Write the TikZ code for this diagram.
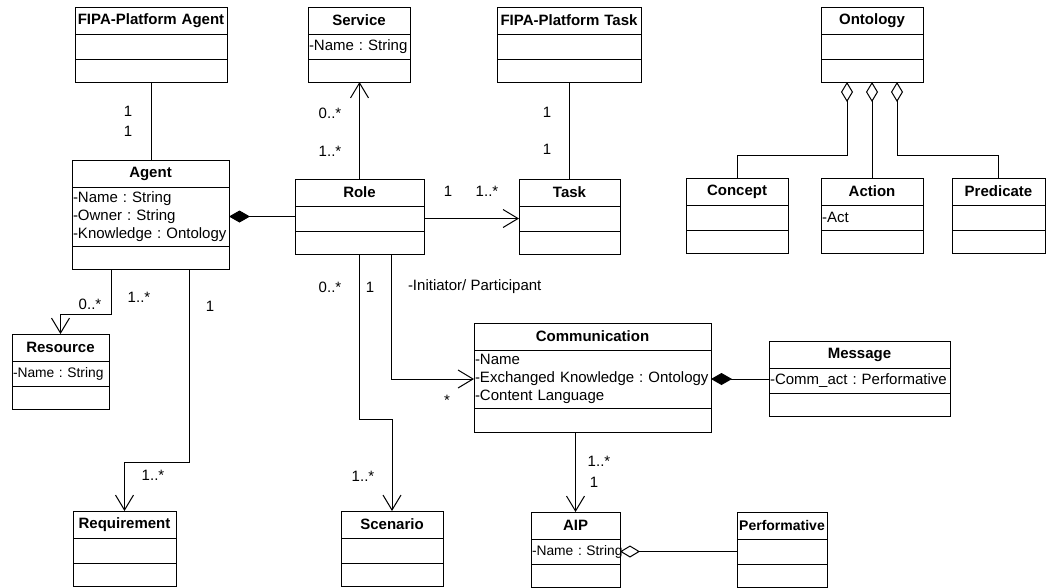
\documentclass[tikz,border=0pt]{standalone}
\usepackage{fontspec}
\setmainfont{Liberation Sans}
\usetikzlibrary{arrows.meta,positioning}
\frenchspacing

\begin{document}
\begin{tikzpicture}[x=1pt,y=-1pt,line width=1pt,
  every node/.style={font=\fontsize{15}{18}\selectfont,outer sep=0pt},
  title/.style={draw,text width=#1,align=center,inner xsep=1pt,inner ysep=0pt,
    minimum height=27pt,font=\fontsize{15}{18}\selectfont\bfseries,anchor=north west},
  slot/.style={draw,text width=#1,align=left,inner xsep=1pt,inner ysep=0pt,minimum height=25pt},
  ops/.style={slot=#1,minimum height=23pt},
  narrow/.style={font=\fontsize{13.8}{18}\selectfont},
  lbl/.style={inner sep=0pt},
  assoc/.style={-{Straight Barb[length=15pt,width=18pt]}},
  compo/.style={{Diamond[length=21pt,width=12pt]}-},
  aggr/.style={{Diamond[open,length=20pt,width=12pt]}-}]
  \useasboundingbox (0,0) rectangle (1047,587);

  % top row
  \node[title=150pt] (fpagent) at (75,7) {FIPA-Platform Agent};
  \node[slot=150pt,below=0pt of fpagent] (fpagentA) {};
  \node[ops=150pt,below=0pt of fpagentA] (fpagentO) {};

  \node[title=100pt] (service) at (308,7) {Service};
  \node[slot=100pt,below=0pt of service] (serviceA) {-Name : String};
  \node[ops=100pt,below=0pt of serviceA] (serviceO) {};

  \node[title=142pt] (fptask) at (497,7) {FIPA-Platform Task};
  \node[slot=142pt,below=0pt of fptask] (fptaskA) {};
  \node[ops=142pt,below=0pt of fptaskA] (fptaskO) {};

  \node[title=100pt] (ontology) at (821,7) {Ontology};
  \node[slot=100pt,below=0pt of ontology] (ontologyA) {};
  \node[ops=100pt,below=0pt of ontologyA] (ontologyO) {};

  % second row
  \node[title=155pt] (agent) at (72,160) {Agent};
  \node[slot=155pt,below=0pt of agent,minimum height=59pt] (agentA)
    {-Name : String\\-Owner : String\\-Knowledge : Ontology};
  \node[ops=155pt,below=0pt of agentA] (agentO) {};

  \node[title=127pt] (role) at (295,179) {Role};
  \node[slot=127pt,below=0pt of role] (roleA) {};
  \node[ops=127pt,below=0pt of roleA] (roleO) {};

  \node[title=99pt] (task) at (519,179) {Task};
  \node[slot=99pt,below=0pt of task] (taskA) {};
  \node[ops=99pt,below=0pt of taskA] (taskO) {};

  \node[title=100pt] (concept) at (686,178) {Concept};
  \node[slot=100pt,below=0pt of concept] (conceptA) {};
  \node[ops=100pt,below=0pt of conceptA] (conceptO) {};

  \node[title=100pt] (action) at (821,178) {Action};
  \node[slot=100pt,below=0pt of action] (actionA) {-Act};
  \node[ops=100pt,below=0pt of actionA] (actionO) {};

  \node[title=91pt] (predicate) at (952,178) {Predicate};
  \node[slot=91pt,below=0pt of predicate] (predicateA) {};
  \node[ops=91pt,below=0pt of predicateA] (predicateO) {};

  % third row
  \node[title=95pt] (resource) at (12,334) {Resource};
  \node[slot=95pt,narrow,below=0pt of resource] (resourceA) {\mbox{-Name : String}};
  \node[ops=95pt,below=0pt of resourceA] (resourceO) {};

  \node[title=235pt] (comm) at (474,323) {Communication};
  \node[slot=235pt,below=0pt of comm,minimum height=58pt] (commA)
    {-Name\\-Exchanged Knowledge : Ontology\\-Content Language};
  \node[ops=235pt,below=0pt of commA,minimum height=24pt] (commO) {};

  \node[title=179pt] (message) at (769,341) {Message};
  \node[slot=179pt,below=0pt of message] (messageA) {-Comm\_act : Performative};
  \node[ops=179pt,below=0pt of messageA] (messageO) {};

  % bottom row
  \node[title=101pt] (requirement) at (73,511) {Requirement};
  \node[slot=101pt,below=0pt of requirement] (requirementA) {};
  \node[ops=101pt,below=0pt of requirementA] (requirementO) {};

  \node[title=100pt] (scenario) at (341,511) {Scenario};
  \node[slot=100pt,below=0pt of scenario] (scenarioA) {};
  \node[ops=100pt,below=0pt of scenarioA] (scenarioO) {};

  \node[title=87pt] (aip) at (531,512) {AIP};
  \node[slot=87pt,narrow,below=0pt of aip] (aipA) {\mbox{-Name : String}};
  \node[ops=87pt,below=0pt of aipA] (aipO) {};

  \node[title=88pt,font=\fontsize{14}{18}\selectfont\bfseries] (perf) at (737,512) {Performative};
  \node[slot=88pt,below=0pt of perf] (perfA) {};
  \node[ops=88pt,below=0pt of perfA] (perfO) {};

  % connectors
  \draw (fpagentO.south) -- (fpagentO.south |- agent.north);
  \draw[assoc] (role.north) -- (role.north |- serviceO.south);
  \draw (fptaskO.south) -- (fptaskO.south |- task.north);
  \draw[compo] (agentA.east) -- (agentA.east -| role.west);
  \draw[assoc] (roleA.east) -- (roleA.east -| task.west);
  \draw[aggr] ([xshift=-25pt]ontologyO.south) -- ++(0,73) -| (concept.north);
  \draw[aggr] (ontologyO.south) -- (action.north);
  \draw[aggr] ([xshift=25pt]ontologyO.south) -- ++(0,73) -| (predicate.north);
  \draw[assoc] ([xshift=-39pt]agentO.south) -- ++(0,45) -| (resource.north);
  \draw[assoc] ([xshift=39pt]agentO.south) -- ++(0,193) -| (requirement.north);
  \draw[assoc] (roleO.south) -- ++(0,165) -| (scenario.north);
  \draw[assoc] ([xshift=32pt]roleO.south) |- (commA.west);
  \draw[compo] (commA.east) -- (commA.east -| message.west);
  \draw[assoc] (commO.south -| aip.north) -- (aip.north);
  \draw[aggr] (aipA.east) -- (aipA.east -| perf.west);

  % multiplicities
  \node[lbl] (l1) at (128,111) {1};
  \node[lbl] (l2) at (128,131) {1};
  \node[lbl] (l3) at (330,113) {0..*};
  \node[lbl] (l4) at (330,151) {1..*};
  \node[lbl] (l5) at (448,191) {1};
  \node[lbl] (l6) at (487,191) {1..*};
  \node[lbl] (l7) at (547,112) {1};
  \node[lbl] (l8) at (547,149) {1};
  \node[lbl] (l9) at (90,304) {0..*};
  \node[lbl] (l10) at (139,297) {1..*};
  \node[lbl] (l11) at (210,306) {1};
  \node[lbl] (l12) at (330,287) {0..*};
  \node[lbl] (l13) at (370,287) {1};
  \node[lbl,anchor=west] (l14) at (408,287) {-Initiator/ Participant};
  \node[lbl] (l15) at (447,400) {*};
  \node[lbl] (l16) at (153,475) {1..*};
  \node[lbl] (l17) at (363,476) {1..*};
  \node[lbl] (l18) at (599,461) {1..*};
  \node[lbl] (l19) at (594,482) {1};
\end{tikzpicture}
\end{document}
